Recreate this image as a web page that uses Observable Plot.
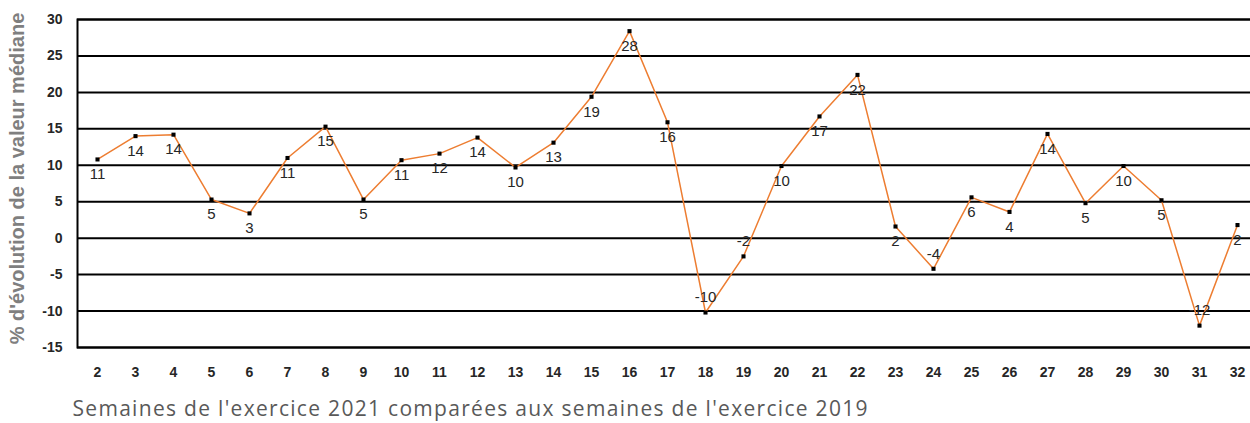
<!DOCTYPE html>
<html>
<head>
<meta charset="utf-8">
<script src="https://cdn.jsdelivr.net/npm/d3@7"></script>
<script src="https://cdn.jsdelivr.net/npm/@observablehq/plot@0.6"></script>
<style>
  html, body { margin: 0; padding: 0; background: #fff; overflow: hidden; }
  #chart svg { display: block; }
</style>
</head>
<body>
<div id="chart"></div>
<script>
const weeks = [2,3,4,5,6,7,8,9,10,11,12,13,14,15,16,17,18,19,20,21,22,23,24,25,26,27,28,29,30,31,32];
const values = [10.8,14.0,14.2,5.3,3.4,11.0,15.3,5.3,10.7,11.6,13.8,9.7,13.1,19.4,28.4,15.9,-10.2,-2.5,9.9,16.7,22.4,1.6,-4.2,5.6,3.6,14.3,4.8,9.9,5.2,-12.0,1.8];
const yTicks = [-15,-10,-5,0,5,10,15,20,25,30];
const yTitle = "% d'évolution de la valeur médiane";
const xTitle = "Semaines de l'exercice 2021 comparées aux semaines de l'exercice 2019";

const data = weeks.map((w, i) => ({week: w, value: values[i], label: String(Math.round(values[i]))}));

const chart = Plot.plot({
  width: 1250,
  height: 423,
  marginLeft: 77,
  marginRight: -6,
  marginTop: 19,
  marginBottom: 76,
  style: {fontFamily: "'Liberation Sans', Arial, sans-serif", fontSize: "14px", color: "#262626", background: "#fff", overflow: "hidden"},
  x: {type: "point", domain: weeks, padding: 0.5, label: null},
  y: {domain: [-15, 30], label: null},
  marks: [
    Plot.ruleY(yTicks, {stroke: "#000", strokeWidth: 2}),
    Plot.frame({stroke: "#000", strokeWidth: 2}),
    Plot.axisY({ticks: yTicks, tickSize: 0, tickPadding: 15, tickFormat: d => String(d), fill: "#262626", fontWeight: "bold", label: null}),
    Plot.axisX({tickSize: 0, tickPadding: 20, tickFormat: d => String(d), fill: "#262626", fontWeight: "bold", label: null}),
    Plot.line(data, {x: "week", y: "value", stroke: "#ED7D31", strokeWidth: 1.5}),
    Plot.dot(data, {x: "week", y: "value", symbol: "square", r: 2.3, fill: "#000", stroke: null}),
    Plot.text(data.filter(d => d.value >= 0), {x: "week", y: "value", text: "label", dy: 15, fill: "#262626", fontSize: 15}),
    Plot.text(data.filter(d => d.value < 0), {x: "week", y: "value", text: "label", dy: -15, fill: "#262626", fontSize: 15}),
    Plot.text([yTitle], {frameAnchor: "left", dx: -60, dy: -5, rotate: -90, fill: "#7f7f7f", fontSize: 20, fontWeight: "bold", textAnchor: "middle"}),
    Plot.text([xTitle], {frameAnchor: "bottom-left", dx: -5, dy: 68, fill: "#595959", fontSize: 21, fontFamily: "'Open Sans', sans-serif", textAnchor: "start"})
  ]
});
d3.select(chart).selectAll("text").filter(function() { return this.textContent === xTitle; }).attr("letter-spacing", "1.3px");
document.getElementById("chart").appendChild(chart);
</script>
</body>
</html>
